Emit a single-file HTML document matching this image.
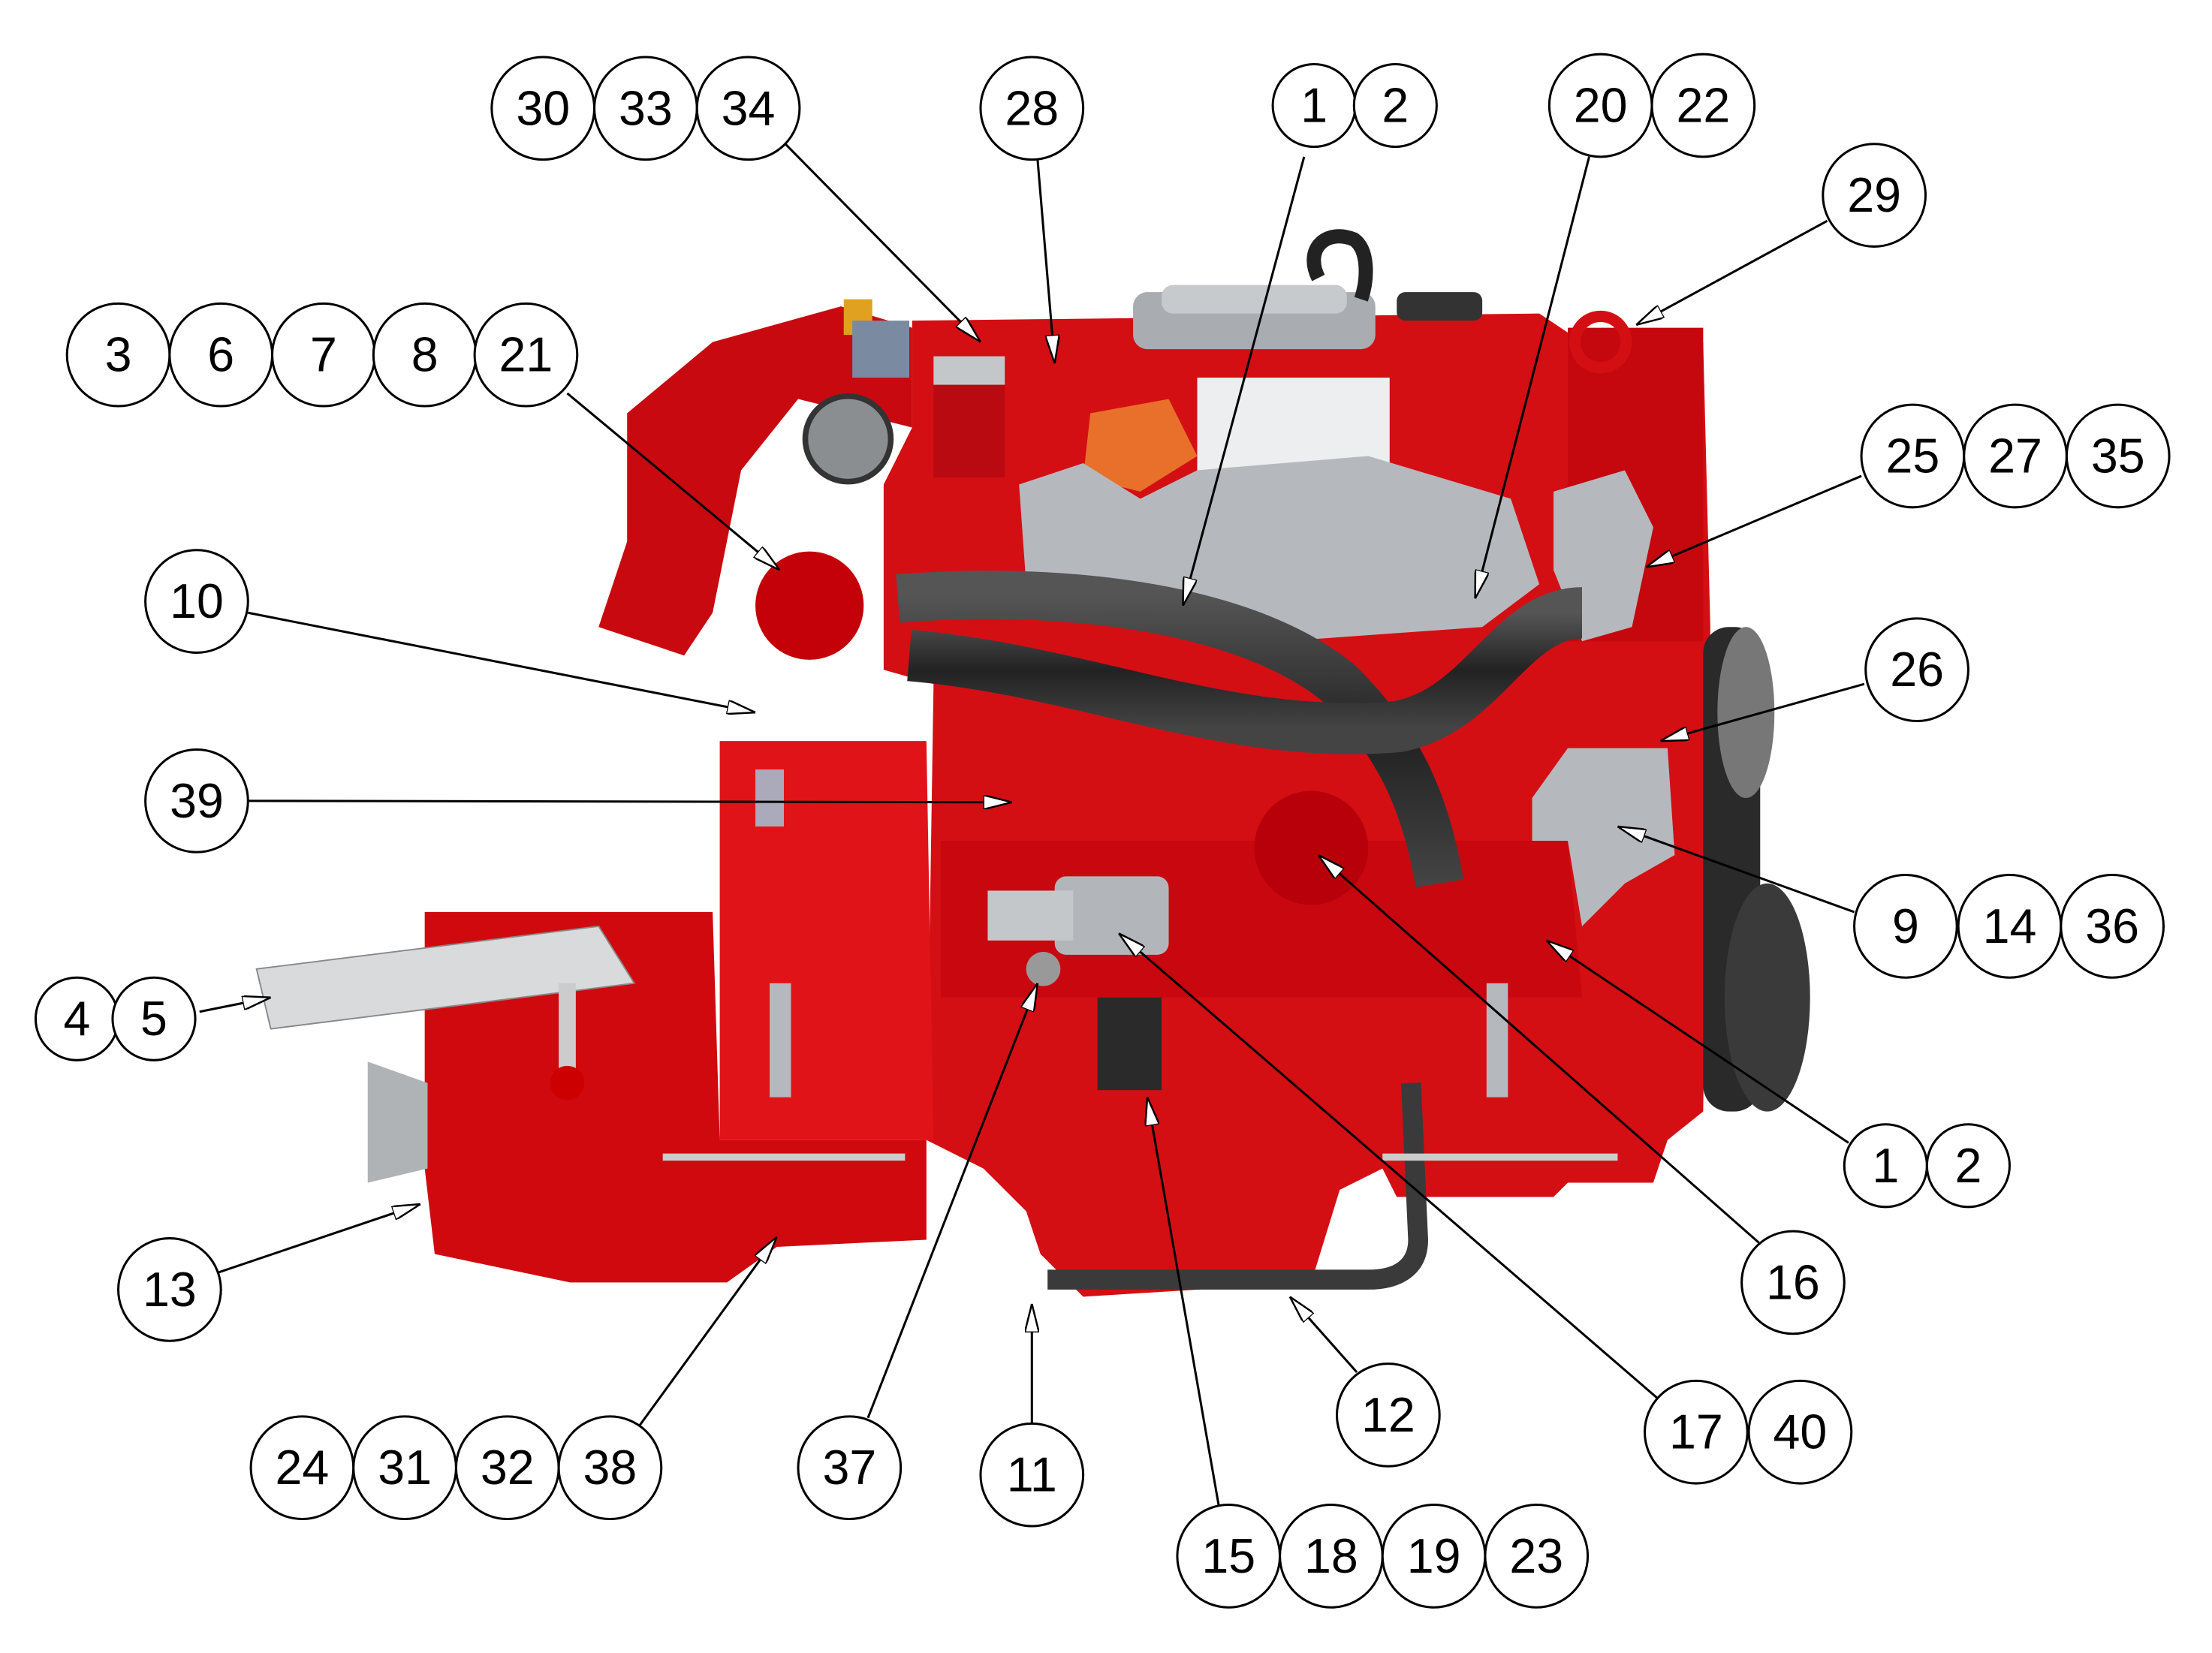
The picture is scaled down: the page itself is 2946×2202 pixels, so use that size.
<!DOCTYPE html>
<html><head><meta charset="utf-8"><style>
html,body{margin:0;padding:0;background:#fff;}
svg{display:block;}
text{font-family:"Liberation Sans",sans-serif;font-size:34px;fill:#000;text-anchor:middle;dominant-baseline:central;}
</style></head><body>
<svg width="2946" height="2202" viewBox="0 0 1552 1160" xmlns="http://www.w3.org/2000/svg">
<defs>
<marker id="a" viewBox="0 0 20 10" refX="20" refY="5" markerWidth="20" markerHeight="10" markerUnits="userSpaceOnUse" orient="auto">
<path d="M0,0 L20,5 L0,10 Z" fill="#fff" stroke="#000" stroke-width="1.3"/></marker>
<linearGradient id="hose" x1="0" y1="0" x2="0" y2="1"><stop offset="0" stop-color="#555"/><stop offset="0.5" stop-color="#222"/><stop offset="1" stop-color="#444"/></linearGradient>
</defs>
<rect width="1552" height="1160" fill="#fff"/>
<!-- engine body -->
<g>
<path d="M640,225 L1080,220 L1110,240 L1195,240 L1200,440 L1195,780 L1170,800 L1160,830 L1100,830 L1090,840 L980,840 L970,820 L940,835 L920,900 L760,910 L730,880 L720,850 L690,820 L650,800 L655,480 L620,470 L620,340 L640,300 Z" fill="#d30f14"/>
<path d="M505,520 L650,520 L655,800 L505,800 Z" fill="#e01418"/>
<path d="M298,640 L500,640 L505,800 L650,800 L650,870 L545,875 L510,900 L400,900 L305,880 L298,820 Z" fill="#d0090e"/>
<path d="M440,290 L500,240 L590,215 L640,230 L640,300 L560,280 L520,330 L500,430 L480,460 L420,440 L440,380 Z" fill="#c80a10"/>
<circle cx="568" cy="425" r="38" fill="#c40008"/>
<path d="M660,590 L1100,590 L1110,700 L660,700 Z" fill="#c00008" opacity="0.5"/>
<circle cx="920" cy="595" r="40" fill="#b8000a"/>
<rect x="1100" y="230" width="95" height="220" fill="#c5080e"/>
<circle cx="1123" cy="240" r="18" fill="none" stroke="#d30f14" stroke-width="8"/>
<!-- top air cleaner / carb -->
<rect x="795" y="205" width="170" height="40" rx="10" fill="#a9adb2"/>
<rect x="815" y="200" width="130" height="20" rx="8" fill="#c7cacd"/>
<path d="M925,195 C915,175 930,160 950,168 C960,175 960,195 955,210" fill="none" stroke="#222" stroke-width="10"/>
<rect x="980" y="205" width="60" height="20" rx="6" fill="#333"/>
<rect x="840" y="265" width="135" height="90" fill="#eceeef"/>
<path d="M765,290 L820,280 L840,320 L800,345 L760,335 Z" fill="#e8702a"/>
<path d="M715,340 L760,325 L800,350 L840,330 L960,320 L1060,350 L1080,410 L1040,440 L900,450 L820,430 L720,410 Z" fill="#b5b9be"/>
<path d="M1090,345 L1140,330 L1160,370 L1145,440 L1110,450 L1090,400 Z" fill="#b5b9be"/>
<rect x="655" y="255" width="50" height="80" fill="#b80a10"/>
<rect x="655" y="250" width="50" height="20" fill="#c4c7ca"/>
<circle cx="595" cy="308" r="30" fill="#8b8e91" stroke="#333" stroke-width="4"/>
<rect x="592" y="210" width="20" height="25" fill="#e0a020"/>
<rect x="598" y="225" width="40" height="40" fill="#7a8aa0"/>
<!-- hoses -->
<path d="M630,420 C760,410 880,430 940,480 C980,520 1000,560 1010,620" fill="none" stroke="url(#hose)" stroke-width="34"/>
<path d="M638,460 C760,470 860,520 980,510 C1040,500 1060,430 1110,430" fill="none" stroke="url(#hose)" stroke-width="36"/>
<path d="M700,640 L1115,640" stroke="url(#hose)" stroke-width="32"/>
<path d="M990,760 L995,870 C995,890 980,898 960,898 L735,898" fill="none" stroke="#3a3a3a" stroke-width="14"/>
<!-- parts -->
<rect x="740" y="615" width="80" height="55" rx="8" fill="#b2b6ba"/>
<rect x="693" y="625" width="60" height="35" fill="#c4c7ca"/>
<rect x="770" y="700" width="45" height="65" fill="#2a2a2a"/>
<circle cx="732" cy="680" r="12" fill="#999"/>
<path d="M1075,560 L1100,525 L1170,525 L1175,600 L1140,620 L1110,650 L1100,590 L1075,590 Z" fill="#b5b9be"/>
<!-- pulleys -->
<rect x="1195" y="440" width="40" height="340" rx="18" fill="#2a2a2a"/>
<ellipse cx="1240" cy="700" rx="30" ry="80" fill="#3a3a3a"/>
<ellipse cx="1225" cy="500" rx="20" ry="60" fill="#777"/>
<!-- bracket & mounts -->
<path d="M180,680 L420,650 L445,690 L190,722 Z" fill="#d8dadc" stroke="#888" stroke-width="1"/>
<line x1="398" y1="690" x2="398" y2="760" stroke="#ccc" stroke-width="12"/>
<circle cx="398" cy="760" r="12" fill="#c00"/>
<path d="M258,745 L300,760 L300,820 L258,830 Z" fill="#b0b3b6"/>
<rect x="540" y="690" width="15" height="80" fill="#b5b9be"/>
<rect x="1043" y="690" width="15" height="80" fill="#b5b9be"/>
<path d="M465,812 L635,812" stroke="#ccc" stroke-width="5"/>
<path d="M970,812 L1135,812" stroke="#ccc" stroke-width="5"/>
<rect x="530" y="540" width="20" height="40" fill="#aab" />
</g>
<!-- leaders -->
<g stroke="#000" stroke-width="1.6" fill="none" marker-end="url(#a)">
<line x1="550" y1="100" x2="688" y2="240"/>
<line x1="728" y1="112" x2="740" y2="255"/>
<line x1="915" y1="110" x2="830" y2="425"/>
<line x1="1115" y1="110" x2="1035" y2="420"/>
<line x1="1282" y1="155" x2="1148" y2="228"/>
<line x1="398" y1="276" x2="547" y2="400"/>
<line x1="1306" y1="334" x2="1155" y2="398"/>
<line x1="174" y1="430" x2="530" y2="500"/>
<line x1="1308" y1="480" x2="1165" y2="520"/>
<line x1="174" y1="562" x2="710" y2="563"/>
<line x1="1301" y1="640" x2="1135" y2="580"/>
<line x1="140" y1="710" x2="190" y2="700"/>
<line x1="1297" y1="802" x2="1085" y2="660"/>
<line x1="1234" y1="872" x2="925" y2="600"/>
<line x1="153" y1="893" x2="295" y2="845"/>
<line x1="952" y1="963" x2="905" y2="910"/>
<line x1="1165" y1="983" x2="785" y2="655"/>
<line x1="449" y1="1000" x2="545" y2="868"/>
<line x1="609" y1="995" x2="728" y2="690"/>
<line x1="724" y1="999" x2="724" y2="915"/>
<line x1="855" y1="1056" x2="805" y2="770"/>
</g>
<!-- balloons -->
<g fill="#fff" stroke="#000" stroke-width="1.6">
<circle cx="381" cy="76" r="36"/><circle cx="453" cy="76" r="36"/><circle cx="525" cy="76" r="36"/>
<circle cx="724" cy="76" r="36"/>
<circle cx="922" cy="74" r="29"/><circle cx="979" cy="74" r="29"/>
<circle cx="1123" cy="74" r="36"/><circle cx="1195" cy="74" r="36"/>
<circle cx="1315" cy="137" r="36"/>
<circle cx="83" cy="249" r="36"/><circle cx="155" cy="249" r="36"/><circle cx="227" cy="249" r="36"/><circle cx="298" cy="249" r="36"/><circle cx="369" cy="249" r="36"/>
<circle cx="1342" cy="320" r="36"/><circle cx="1414" cy="320" r="36"/><circle cx="1486" cy="320" r="36"/>
<circle cx="138" cy="422" r="36"/>
<circle cx="1345" cy="470" r="36"/>
<circle cx="138" cy="562" r="36"/>
<circle cx="1337" cy="650" r="36"/><circle cx="1410" cy="650" r="36"/><circle cx="1482" cy="650" r="36"/>
<circle cx="54" cy="715" r="29"/><circle cx="108" cy="715" r="29"/>
<circle cx="1323" cy="818" r="29"/><circle cx="1381" cy="818" r="29"/>
<circle cx="1258" cy="900" r="36"/>
<circle cx="119" cy="905" r="36"/>
<circle cx="974" cy="993" r="36"/>
<circle cx="1190" cy="1005" r="36"/><circle cx="1263" cy="1005" r="36"/>
<circle cx="212" cy="1030" r="36"/><circle cx="284" cy="1030" r="36"/><circle cx="356" cy="1030" r="36"/><circle cx="428" cy="1030" r="36"/>
<circle cx="596" cy="1030" r="36"/>
<circle cx="724" cy="1035" r="36"/>
<circle cx="862" cy="1092" r="36"/><circle cx="934" cy="1092" r="36"/><circle cx="1006" cy="1092" r="36"/><circle cx="1078" cy="1092" r="36"/>
</g>
<g>
<text x="381" y="76">30</text><text x="453" y="76">33</text><text x="525" y="76">34</text>
<text x="724" y="76">28</text>
<text x="922" y="74">1</text><text x="979" y="74">2</text>
<text x="1123" y="74">20</text><text x="1195" y="74">22</text>
<text x="1315" y="137">29</text>
<text x="83" y="249">3</text><text x="155" y="249">6</text><text x="227" y="249">7</text><text x="298" y="249">8</text><text x="369" y="249">21</text>
<text x="1342" y="320">25</text><text x="1414" y="320">27</text><text x="1486" y="320">35</text>
<text x="138" y="422">10</text>
<text x="1345" y="470">26</text>
<text x="138" y="562">39</text>
<text x="1337" y="650">9</text><text x="1410" y="650">14</text><text x="1482" y="650">36</text>
<text x="54" y="715">4</text><text x="108" y="715">5</text>
<text x="1323" y="818">1</text><text x="1381" y="818">2</text>
<text x="1258" y="900">16</text>
<text x="119" y="905">13</text>
<text x="974" y="993">12</text>
<text x="1190" y="1005">17</text><text x="1263" y="1005">40</text>
<text x="212" y="1030">24</text><text x="284" y="1030">31</text><text x="356" y="1030">32</text><text x="428" y="1030">38</text>
<text x="596" y="1030">37</text>
<text x="724" y="1035">11</text>
<text x="862" y="1092">15</text><text x="934" y="1092">18</text><text x="1006" y="1092">19</text><text x="1078" y="1092">23</text>
</g>
</svg>
</body></html>
